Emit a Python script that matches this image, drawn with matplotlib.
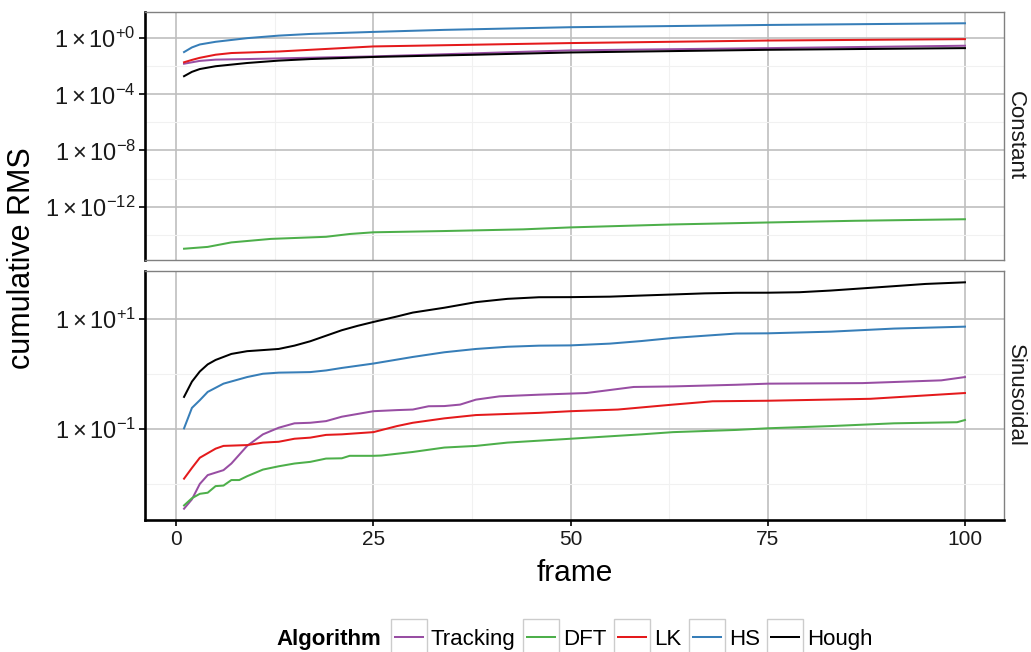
import numpy as np
import matplotlib
matplotlib.use("Agg")
import matplotlib.pyplot as plt
from matplotlib.ticker import FixedLocator, FixedFormatter, NullFormatter
from matplotlib.lines import Line2D
from matplotlib.patches import Rectangle

plt.rcParams['font.family'] = ['Liberation Sans', 'DejaVu Sans']
plt.rcParams['mathtext.fontset'] = 'custom'
plt.rcParams['mathtext.rm'] = 'Liberation Sans'
plt.rcParams['mathtext.it'] = 'Liberation Sans:italic'
plt.rcParams['mathtext.bf'] = 'Liberation Sans:bold'
plt.rcParams['mathtext.sf'] = 'Liberation Sans'

# ---------------- data ----------------
algorithms = ['Tracking', 'DFT', 'LK', 'HS', 'Hough']
algo_colors = ['#984EA3', '#4DAF4A', '#E41A1C', '#377EB8', '#000000']
facets = ['Constant', 'Sinusoidal']

# Constant facet
const_tracking_frames = [1, 3, 5, 9, 25, 50, 75, 100]
const_tracking = [0.0151, 0.0240, 0.0295, 0.0324, 0.0501, 0.1349, 0.1950, 0.2884]

const_dft_frames = [1, 4, 7, 12, 19, 22, 25, 34, 44, 50, 63, 75, 86, 100]
const_dft = [1.0e-15, 1.35e-15, 2.82e-15, 5.01e-15, 7.08e-15, 1.12e-14, 1.48e-14,
             1.82e-14, 2.40e-14, 3.31e-14, 5.37e-14, 7.41e-14, 9.77e-14, 1.26e-13]

const_lk_frames = [1, 2, 3, 5, 7, 13, 25, 50, 75, 100]
const_lk = [0.0191, 0.0282, 0.0398, 0.0661, 0.0871, 0.1122, 0.2570, 0.4467, 0.6761, 0.8511]

const_hs_frames = [1, 2, 3, 5, 9, 13, 17, 25, 34, 50, 75, 100]
const_hs = [0.102, 0.219, 0.355, 0.550, 1.0, 1.514, 1.995, 2.786, 3.890, 6.026, 8.710, 11.48]

const_hough_frames = [1, 2, 3, 5, 9, 13, 17, 25, 38, 50, 75, 100]
const_hough = [0.00195, 0.00398, 0.00631, 0.0100, 0.0170, 0.0251, 0.0324, 0.0457,
               0.0661, 0.0955, 0.1479, 0.1950]

# Sinusoidal facet
sin_tracking_frames = [1, 2, 3, 4, 6, 7, 9, 11, 13, 15, 17, 19, 21, 25, 28, 30, 32, 34,
                       36, 38, 41, 46, 50, 52, 58, 63, 71, 75, 87, 97, 100]
sin_tracking = [0.00355, 0.00525, 0.0100, 0.01445, 0.01778, 0.02344, 0.0490, 0.0794,
                0.1047, 0.1259, 0.1288, 0.1380, 0.1660, 0.2089, 0.2188, 0.2239, 0.2570,
                0.2590, 0.2754, 0.3388, 0.3890, 0.4169, 0.4365, 0.4467, 0.5754, 0.5888,
                0.6310, 0.6607, 0.6761, 0.7586, 0.8710]

sin_dft_frames = [1, 2, 3, 4, 5, 6, 7, 8, 9, 11, 13, 15, 17, 19, 21, 22, 25, 26, 30, 34,
                  38, 42, 50, 59, 63, 71, 75, 83, 91, 99, 100]
sin_dft = [0.00407, 0.00550, 0.00661, 0.00692, 0.00912, 0.00933, 0.01175, 0.01175,
           0.01380, 0.01820, 0.02089, 0.02344, 0.02512, 0.02884, 0.02917, 0.03236,
           0.03236, 0.03273, 0.03802, 0.04571, 0.04898, 0.05623, 0.06607, 0.07943,
           0.08710, 0.09550, 0.1023, 0.1122, 0.1259, 0.1318, 0.1445]

sin_lk_frames = [1, 2, 3, 5, 6, 9, 11, 13, 15, 17, 19, 21, 25, 28, 30, 34, 38, 46, 50,
                 56, 63, 68, 75, 88, 100]
sin_lk = [0.01245, 0.0195, 0.02985, 0.04365, 0.0490, 0.0507, 0.0562, 0.0582, 0.0661,
          0.0692, 0.0776, 0.0794, 0.0871, 0.1122, 0.1288, 0.1549, 0.1778, 0.1950, 0.2089,
          0.2239, 0.2754, 0.3162, 0.3236, 0.3508, 0.4467]

sin_hs_frames = [1, 2, 3, 4, 6, 9, 11, 13, 15, 17, 19, 21, 25, 30, 34, 38, 42, 46, 50,
                 55, 59, 63, 67, 71, 75, 83, 91, 100]
sin_hs = [0.102, 0.240, 0.331, 0.468, 0.661, 0.871, 1.0, 1.047, 1.059, 1.072, 1.148,
          1.274, 1.531, 2.018, 2.455, 2.818, 3.090, 3.236, 3.273, 3.524, 3.926, 4.467,
          4.898, 5.370, 5.420, 5.808, 6.607, 7.161]

sin_hough_frames = [1, 2, 3, 4, 5, 7, 9, 11, 13, 15, 17, 19, 21, 23, 25, 28, 30, 34, 38,
                    42, 46, 50, 55, 59, 63, 67, 71, 75, 79, 83, 87, 91, 95, 100]
sin_hough = [0.38, 0.72, 1.10, 1.48, 1.78, 2.29, 2.57, 2.69, 2.82, 3.24, 3.89, 4.90,
             6.17, 7.41, 8.71, 10.96, 12.9, 15.8, 19.95, 22.9, 24.5, 24.6, 25.1, 26.3,
             27.5, 28.8, 29.5, 29.6, 30.2, 32.4, 35.5, 38.9, 42.7, 45.7]

x_ticks = [0, 25, 50, 75, 100]
x_tick_labels = ['0', '25', '50', '75', '100']
const_ytick_exps = [0, -4, -8, -12]
const_ytick_labels = [r'$1\times10^{+0}$', r'$1\times10^{-4}$', r'$1\times10^{-8}$', r'$1\times10^{-12}$']
sin_ytick_exps = [1, -1]
sin_ytick_labels = [r'$1\times10^{+1}$', r'$1\times10^{-1}$']

panel_data = {
    'Constant': [(const_tracking_frames, const_tracking), (const_dft_frames, const_dft),
                 (const_lk_frames, const_lk), (const_hs_frames, const_hs),
                 (const_hough_frames, const_hough)],
    'Sinusoidal': [(sin_tracking_frames, sin_tracking), (sin_dft_frames, sin_dft),
                   (sin_lk_frames, sin_lk), (sin_hs_frames, sin_hs),
                   (sin_hough_frames, sin_hough)],
}
panel_ticks = {
    'Constant': (const_ytick_exps, const_ytick_labels),
    'Sinusoidal': (sin_ytick_exps, sin_ytick_labels),
}

# ---------------- figure ----------------
W, H = 1031, 652
fig = plt.figure(figsize=(W / 100, H / 100), dpi=100)
fig.patch.set_facecolor('white')

panel_px = {'Constant': (12, 260), 'Sinusoidal': (271, 520)}
left_px, right_px = 145, 1004

grid_major = '#bfbfbf'
grid_minor = '#f1f1f1'
border = '#808080'
xtick_fs = 15
ytick_fs = 17
text_col = '#1a1a1a'

all_frames = [f for fs, _ in panel_data['Constant'] for f in fs]
xmin, xmax = min(all_frames), max(all_frames)
xpad = 0.05 * (xmax - xmin)

axes = {}
for i, facet in enumerate(facets):
    top, bot = panel_px[facet]
    ax = fig.add_axes([left_px / W, 1 - bot / H, (right_px - left_px) / W, (bot - top) / H])
    axes[facet] = ax
    ax.set_yscale('log')
    for (fr, vals), alg, col in zip(panel_data[facet], algorithms, algo_colors):
        ax.plot(fr, vals, color=col, lw=1.45, solid_joinstyle='round', zorder=3)
    allv = np.concatenate([np.log10(v) for _, v in panel_data[facet]])
    lo, hi = allv.min(), allv.max()
    pad = 0.05 * (hi - lo)
    ax.set_ylim(10 ** (lo - pad), 10 ** (hi + pad))
    ax.set_xlim(xmin - xpad, xmax + xpad)

    exps, labs = panel_ticks[facet]
    ax.yaxis.set_major_locator(FixedLocator([10.0 ** e for e in exps]))
    ax.yaxis.set_major_formatter(FixedFormatter(labs))
    step = exps[0] - exps[1]
    minor_exps = np.arange(exps[-1] - step * 1.5, exps[0] + step, step)
    ax.yaxis.set_minor_locator(FixedLocator([10.0 ** e for e in minor_exps]))
    ax.yaxis.set_minor_formatter(NullFormatter())

    ax.xaxis.set_major_locator(FixedLocator(x_ticks))
    ax.xaxis.set_minor_locator(FixedLocator([12.5, 37.5, 62.5, 87.5]))
    ax.xaxis.set_minor_formatter(NullFormatter())
    if facet == 'Sinusoidal':
        ax.xaxis.set_major_formatter(FixedFormatter(x_tick_labels))
        ax.tick_params(axis='x', which='major', length=4.5, width=1.2, color='black',
                       labelsize=xtick_fs, labelcolor=text_col, pad=3)
    else:
        ax.xaxis.set_major_formatter(NullFormatter())
        ax.tick_params(axis='x', which='major', length=0)
    ax.tick_params(axis='x', which='minor', length=0)
    ax.tick_params(axis='y', which='major', length=4.5, width=1.2, color='black',
                   labelsize=ytick_fs, labelcolor=text_col, pad=2)
    ax.tick_params(axis='y', which='minor', length=0)

    ax.grid(True, which='major', color=grid_major, lw=1.2, zorder=0)
    ax.grid(True, which='minor', color=grid_minor, lw=0.8, zorder=0)
    ax.set_axisbelow(True)

    for s in ['top', 'right', 'bottom']:
        ax.spines[s].set_color(border)
        ax.spines[s].set_linewidth(1.0)
    ax.spines['left'].set_color('black')
    ax.spines['left'].set_linewidth(1.9)
    if facet == 'Sinusoidal':
        ax.spines['bottom'].set_color('black')
        ax.spines['bottom'].set_linewidth(1.9)

    fig.text(1015 / W, 1 - (top + bot) / 2 / H, facet, rotation=-90, ha='center',
             va='center', fontsize=16, color=text_col)

fig.text(22 / W, 1 - 258 / H, 'cumulative RMS', rotation=90, ha='center', va='center',
         fontsize=22, color='black')
fig.text((left_px + right_px) / 2 / W, 1 - 573 / H, 'frame', ha='center', va='center',
         fontsize=21.5, color='black')

# ---------------- legend ----------------
fig.canvas.draw()
renderer = fig.canvas.get_renderer()
leg_y = 637
leg_fs = 16
box = 36

def text_width(s, **kw):
    t = fig.text(0, 0, s, fontsize=leg_fs, **kw)
    w = t.get_window_extent(renderer).width
    t.remove()
    return w

title_w = text_width('Algorithm', fontweight='bold')
item_w = [text_width(a) for a in algorithms]
gap_title, gap_txt, gap_item = 10, 4, 7.5
total = title_w + gap_title + sum(box + gap_txt + w for w in item_w) + gap_item * (len(algorithms) - 1)
x = (left_px + right_px) / 2 - total / 2
fig.text(x / W, 1 - leg_y / H, 'Algorithm', fontweight='bold', fontsize=leg_fs,
         ha='left', va='center_baseline', color='black')
x += title_w + gap_title
for alg, col, w in zip(algorithms, algo_colors, item_w):
    fig.add_artist(Rectangle((x / W, 1 - (leg_y + box / 2) / H), box / W, box / H,
                             transform=fig.transFigure, fill=False, edgecolor='#cccccc', lw=1.0))
    fig.add_artist(Line2D([(x + 4) / W, (x + box - 4) / W], [1 - leg_y / H] * 2,
                          transform=fig.transFigure, color=col, lw=1.45))
    x += box + gap_txt
    fig.text(x / W, 1 - leg_y / H, alg, fontsize=leg_fs, ha='left', va='center_baseline',
             color='black')
    x += w + gap_item

fig.savefig('out.png', dpi=100, facecolor='white')
